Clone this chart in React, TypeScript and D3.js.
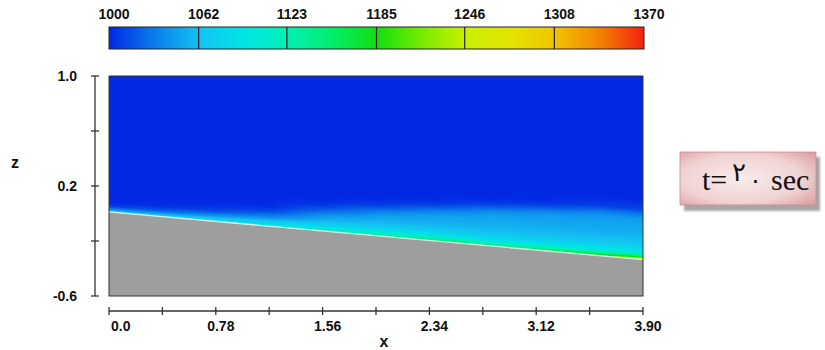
import React, { useEffect, useState } from 'react';
import * as d3 from 'd3';

// ---- colour bar ----
const colorTicks = [1000, 1062, 1123, 1185, 1246, 1308, 1370];
const colorStopValues = [1000, 1031, 1062, 1092, 1123, 1154, 1185, 1215, 1246, 1277, 1308, 1339, 1370];
const colorStopColors = ['#0228e4', '#0a7cec', '#14c2f2', '#00e4e8', '#00f0b4', '#00ee6c', '#12de10', '#74ea00', '#c8f000', '#e2e400', '#f2c400', '#f28400', '#f22010'];

// ---- axes ----
const xTicks = [0, 0.39, 0.78, 1.17, 1.56, 1.95, 2.34, 2.73, 3.12, 3.51, 3.9];
const xTickLabels = ['0.0', '', '0.78', '', '1.56', '', '2.34', '', '3.12', '', '3.90'];
const zTicks = [1.0, 0.6, 0.2, -0.2, -0.6];
const zTickLabels = ['1.0', '', '0.2', '', '-0.6'];

// ---- sloping bed ----
const bedX = [0, 3.9];
const bedZ = [0.012, -0.335];

// ---- density field: columns at gridX, rows = height above bed (gridH) ----
const gridX = [0, 0.4, 0.8, 1.2, 1.6, 2.0, 2.4, 2.8, 3.2, 3.6, 3.9];
const gridH = [0, 0.022, 0.044, 0.073, 0.11, 0.146, 0.183, 0.219, 0.256, 0.292, 0.329, 0.365, 0.438];
const densCol0 = [1075, 1030, 1006, 1000, 1000, 1000, 1000, 1000, 1000, 1000, 1000, 1000, 1000];
const densCol1 = [1080, 1045, 1018, 1004, 1000, 1000, 1000, 1000, 1000, 1000, 1000, 1000, 1000];
const densCol2 = [1090, 1065, 1040, 1015, 1003, 1000, 1000, 1000, 1000, 1000, 1000, 1000, 1000];
const densCol3 = [1100, 1080, 1058, 1035, 1012, 1002, 1000, 1000, 1000, 1000, 1000, 1000, 1000];
const densCol4 = [1130, 1095, 1075, 1058, 1045, 1025, 1008, 1001, 1000, 1000, 1000, 1000, 1000];
const densCol5 = [1150, 1110, 1085, 1065, 1055, 1048, 1032, 1010, 1002, 1000, 1000, 1000, 1000];
const densCol6 = [1170, 1120, 1090, 1070, 1058, 1052, 1048, 1034, 1012, 1002, 1000, 1000, 1000];
const densCol7 = [1160, 1115, 1090, 1072, 1060, 1055, 1051, 1048, 1036, 1014, 1002, 1000, 1000];
const densCol8 = [1180, 1125, 1095, 1075, 1062, 1056, 1052, 1049, 1046, 1032, 1010, 1001, 1000];
const densCol9 = [1200, 1140, 1100, 1080, 1065, 1058, 1053, 1050, 1048, 1044, 1028, 1008, 1000];
const densCol10 = [1290, 1160, 1110, 1085, 1068, 1060, 1055, 1051, 1049, 1045, 1030, 1010, 1000];
const densityColumns = [densCol0, densCol1, densCol2, densCol3, densCol4, densCol5, densCol6, densCol7, densCol8, densCol9, densCol10];

const timeLabel = ['t=', '۲', '۰', 'sec'];

const W = 825;
const H = 350;
const plotL = 109, plotR = 643, plotT = 76, plotB = 296;

const xScale = d3.scaleLinear().domain([0, 3.9]).range([plotL, plotR]);
const zScale = d3.scaleLinear().domain([-0.6, 1.0]).range([plotB, plotT]);
const bedScale = d3.scaleLinear().domain(bedX).range(bedZ);
const cScale = d3.scaleLinear().domain([1000, 1370]).range([109, 644]);
const colormap = d3.scaleLinear<string>().domain(colorStopValues).range(colorStopColors).interpolate(d3.interpolateRgb).clamp(true);

function locate(arr: number[], v: number): [number, number] {
  if (v <= arr[0]) return [0, 0];
  if (v >= arr[arr.length - 1]) return [arr.length - 2, 1];
  const i = Math.max(0, d3.bisectRight(arr, v) - 1);
  const t = (v - arr[i]) / (arr[i + 1] - arr[i]);
  return [i, t];
}

function densityAt(xv: number, h: number): number {
  const [i, tx] = locate(gridX, xv);
  const [j, th] = locate(gridH, h);
  const a = densityColumns[i], b = densityColumns[Math.min(i + 1, gridX.length - 1)];
  const j2 = Math.min(j + 1, gridH.length - 1);
  const va = a[j] + (a[j2] - a[j]) * th;
  const vb = b[j] + (b[j2] - b[j]) * th;
  return va + (vb - va) * tx;
}

function makeField(): string {
  const w = plotR - plotL, h = plotB - plotT;
  const cv = document.createElement('canvas');
  cv.width = w; cv.height = h;
  const ctx = cv.getContext('2d');
  if (!ctx) return '';
  const img = ctx.createImageData(w, h);
  for (let j = 0; j < h; j++) {
    const zv = zScale.invert(plotT + j + 0.5);
    for (let i = 0; i < w; i++) {
      const xv = xScale.invert(plotL + i + 0.5);
      const hh = Math.max(0, zv - bedScale(xv));
      const c = d3.rgb(colormap(densityAt(xv, hh)));
      const k = (j * w + i) * 4;
      img.data[k] = c.r; img.data[k + 1] = c.g; img.data[k + 2] = c.b; img.data[k + 3] = 255;
    }
  }
  ctx.putImageData(img, 0, 0);
  return cv.toDataURL();
}

export default function App() {
  const [field, setField] = useState('');
  useEffect(() => { setField(makeField()); }, []);

  const bedPts: [number, number][] = bedX.map((x, i) => [x, bedZ[i]]);
  const bedArea = d3.area<[number, number]>().x(d => xScale(d[0])).y0(zScale(-0.6)).y1(d => zScale(d[1]))(bedPts) || '';
  const bedLine = d3.line<[number, number]>().x(d => xScale(d[0])).y(d => zScale(d[1]))(bedPts) || '';

  const gradStops = d3.range(0, 41).map(k => 1000 + (370 * k) / 40);
  const axisFont = '"Liberation Sans", Arial, Helvetica, sans-serif';

  return (
    <svg width={W} height={H} style={{ display: 'block', position: 'absolute', left: 0, top: 0 }}>
      <defs>
        <linearGradient id="cbar" x1="0" x2="1" y1="0" y2="0">
          {gradStops.map((v, k) => (
            <stop key={k} offset={(v - 1000) / 370} stopColor={colormap(v)} />
          ))}
        </linearGradient>
        <radialGradient id="boxg" cx="0.45" cy="0.5" r="0.75">
          <stop offset="0" stopColor="#f8ecec" />
          <stop offset="0.6" stopColor="#f0d2d2" />
          <stop offset="1" stopColor="#d8989c" />
        </radialGradient>
        <filter id="sh" x="-10%" y="-10%" width="130%" height="140%">
          <feGaussianBlur stdDeviation="1.2" />
        </filter>
      </defs>
      <rect width={W} height={H} fill="#ffffff" />

      {/* colour bar */}
      <rect x={cScale(1000)} y={27} width={cScale(1370) - cScale(1000)} height={22} fill="url(#cbar)" stroke="#222" strokeWidth={1} />
      {colorTicks.slice(1, -1).map(v => (
        <line key={v} x1={cScale(v)} x2={cScale(v)} y1={27} y2={49} stroke="#222" strokeWidth={1.2} />
      ))}
      {colorTicks.map(v => (
        <text key={v} x={cScale(v) + 5} y={19} textAnchor="middle" fontFamily={axisFont} fontWeight="bold" fontSize={14} fill="#111">{v}</text>
      ))}

      {/* field */}
      <rect x={plotL} y={plotT} width={plotR - plotL} height={plotB - plotT} fill={colormap(1000)} />
      {field && <image href={field} x={plotL} y={plotT} width={plotR - plotL} height={plotB - plotT} preserveAspectRatio="none" />}
      <path d={bedArea} fill="#9e9e9e" />
      <path d={bedLine} fill="none" stroke="#d4f2ec" strokeWidth={1.3} />
      <rect x={plotL} y={plotT} width={plotR - plotL} height={plotB - plotT} fill="none" stroke="#333" strokeWidth={1} />

      {/* z axis */}
      <line x1={95} x2={95} y1={zScale(1.0)} y2={zScale(-0.6)} stroke="#333" strokeWidth={1.3} />
      {zTicks.map((v, i) => (
        <g key={v}>
          <line x1={91} x2={99} y1={zScale(v)} y2={zScale(v)} stroke="#333" strokeWidth={1.3} />
          {zTickLabels[i] && (
            <text x={77} y={zScale(v) + 5} textAnchor="end" fontFamily={axisFont} fontWeight="bold" fontSize={14} fill="#111">{zTickLabels[i]}</text>
          )}
        </g>
      ))}
      <text x={15} y={168} textAnchor="middle" fontFamily={axisFont} fontWeight="bold" fontSize={16} fill="#111">z</text>

      {/* x axis */}
      <line x1={xScale(0)} x2={xScale(3.9)} y1={311} y2={311} stroke="#333" strokeWidth={1.3} />
      {xTicks.map((v, i) => (
        <g key={v}>
          <line x1={xScale(v)} x2={xScale(v)} y1={307} y2={315} stroke="#333" strokeWidth={1.3} />
          {xTickLabels[i] && (
            <text x={i === 0 ? xScale(v) + 2 : xScale(v) + 5} y={331} textAnchor={i === 0 ? 'start' : 'middle'} fontFamily={axisFont} fontWeight="bold" fontSize={14} fill="#111">{xTickLabels[i]}</text>
          )}
        </g>
      ))}
      <text x={384} y={347} textAnchor="middle" fontFamily={axisFont} fontWeight="bold" fontSize={16} fill="#111">x</text>

      {/* time box */}
      <rect x={684} y={157} width={136} height={54} fill="#8a8a8a" opacity={0.75} filter="url(#sh)" />
      <rect x={680} y={152} width={136} height={53} fill="url(#boxg)" stroke="#c89094" strokeWidth={0.8} />
      <text y={190} fontFamily='"Liberation Serif", "Times New Roman", serif' fontSize={30} fill="#111">
        <tspan x={702}>{timeLabel[0]}</tspan>
        <tspan x={732} y={181} fontFamily='"DejaVu Sans", sans-serif' fontSize={26}>{timeLabel[1]}</tspan>
        <tspan x={749} y={188} fontFamily='"DejaVu Sans", sans-serif' fontSize={24}>{timeLabel[2]}</tspan>
        <tspan x={771} y={190}>{timeLabel[3]}</tspan>
      </text>
    </svg>
  );
}
